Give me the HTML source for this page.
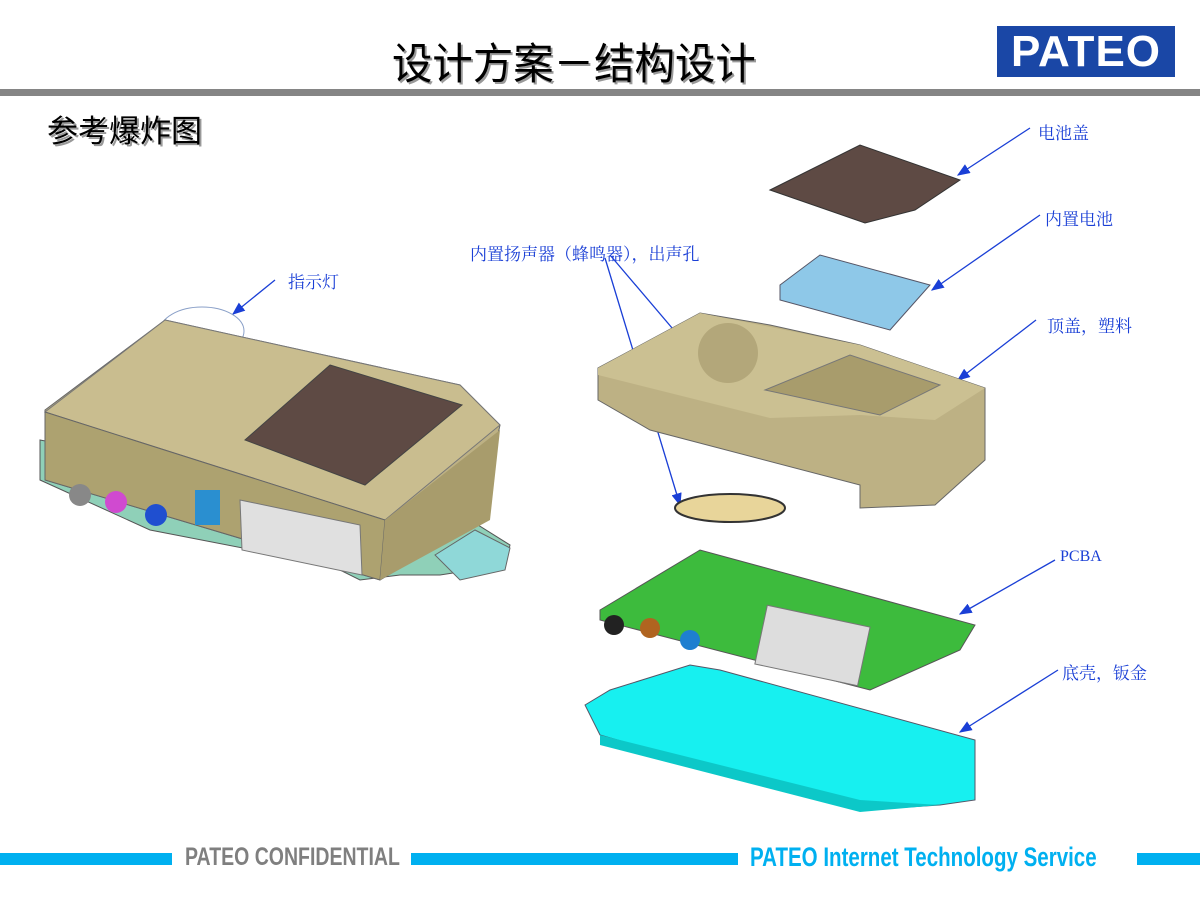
<!DOCTYPE html>
<html><head><meta charset="utf-8"><style>
body{margin:0;width:1200px;height:900px;background:#fff;overflow:hidden;position:relative;font-family:"Liberation Sans","Noto Sans CJK SC",sans-serif}
.t{position:absolute;white-space:nowrap}
.lbl{position:absolute;color:#1a3fd6;font-size:17px;font-family:"Liberation Serif","Noto Serif CJK SC",serif;white-space:nowrap}
</style></head><body>
<div class="t" style="left:392px;top:30px;font-size:43px;color:#000;text-shadow:2px 2px 0 #999;font-family:'Noto Sans CJK SC',sans-serif;transform:scaleX(0.94);transform-origin:left">设计方案－结构设计</div>
<div class="t" style="left:997px;top:26px;width:178px;height:51px;background:#1a47a6;color:#fff;font-weight:bold;font-size:44px;line-height:51px;text-align:center;letter-spacing:1px">PATEO</div>
<div style="position:absolute;left:0;top:89px;width:1200px;height:7px;background:#858585"></div>
<div class="t" style="left:47px;top:106px;font-size:31px;color:#000;text-shadow:2px 2px 0 #999;font-family:'Noto Sans CJK SC',sans-serif">参考爆炸图</div>
<div class="lbl" style="left:1038px;top:119px">电池盖</div>
<div class="lbl" style="left:1045px;top:205px">内置电池</div>
<div class="lbl" style="left:470px;top:240px">内置扬声器（蜂鸣器），出声孔</div>
<div class="lbl" style="left:288px;top:268px">指示灯</div>
<div class="lbl" style="left:1047px;top:312px">顶盖，塑料</div>
<div class="lbl" style="left:1060px;top:548px;font-size:16px">PCBA</div>
<div class="lbl" style="left:1062px;top:659px">底壳，钣金</div>
<svg width="1200" height="900" style="position:absolute;left:0;top:0">
<defs><marker id="a" markerWidth="10" markerHeight="8" refX="9" refY="4" orient="auto"><path d="M0,0L10,4L0,8z" fill="#1a3fd6"/></marker></defs>
<g stroke="#1a3fd6" stroke-width="1.3" fill="none" marker-end="url(#a)">
<line x1="1030" y1="128" x2="958" y2="175"/>
<line x1="1040" y1="215" x2="932" y2="290"/>
<line x1="1036" y1="320" x2="958" y2="380"/>
<line x1="1055" y1="560" x2="960" y2="614"/>
<line x1="1058" y1="670" x2="960" y2="732"/>
<line x1="275" y1="280" x2="233" y2="314"/>
<line x1="610" y1="255" x2="695" y2="355"/>
<line x1="605" y1="258" x2="680" y2="505"/>
</g>
<ellipse cx="202" cy="331" rx="42" ry="24" fill="none" stroke="#8aa0c8"/>
<!-- left device -->
<polygon points="40,440 470,520 510,545 505,565 440,575 400,575 360,580 330,565 150,530 40,480" fill="#8fd0b8" stroke="#555"/>
<polygon points="45,410 165,320 460,385 500,425 480,520 380,580 45,480" fill="#bdb184" stroke="#666"/>
<polygon points="165,320 460,385 500,425 385,520 45,412" fill="#c9bd8f" stroke="#777"/>
<polygon points="45,412 385,520 380,580 45,480" fill="#ada270" stroke="#666"/>
<polygon points="385,520 500,430 490,520 380,580" fill="#a89c6c"/>
<polygon points="330,365 462,405 365,485 245,440" fill="#5e4a44" stroke="#444"/>
<polygon points="240,500 360,525 362,575 242,550" fill="#e0e0e0" stroke="#777"/>
<rect x="195" y="490" width="25" height="35" fill="#2a8fd0"/>
<circle cx="80" cy="495" r="11" fill="#888"/><circle cx="116" cy="502" r="11" fill="#d04ad0"/><circle cx="156" cy="515" r="11" fill="#1f4fd0"/>
<polygon points="435,555 475,530 510,548 505,570 460,580" fill="#8fd8d8" stroke="#666"/>
<!-- battery cover -->
<polygon points="770,190 860,145 960,180 915,210 865,223" fill="#5e4a44" stroke="#333"/>
<!-- battery -->
<polygon points="780,285 820,255 930,285 890,330 780,300" fill="#8ec8e8" stroke="#556"/>
<!-- top cover -->
<polygon points="598,368 700,313 770,325 860,345 985,388 985,460 935,505 860,508 860,485 650,430 598,400" fill="#bdb184" stroke="#666"/>
<polygon points="598,368 700,313 860,345 985,388 935,420 860,415 770,418 598,375" fill="#cbc092"/>
<polygon points="765,390 850,355 940,385 880,415" fill="#a89c6c" stroke="#777"/>
<circle cx="728" cy="353" r="30" fill="#b3a77a"/>
<!-- speaker -->
<ellipse cx="730" cy="508" rx="55" ry="14" fill="#e8d59a" stroke="#333" stroke-width="2"/>
<!-- PCBA -->
<polygon points="600,610 700,550 975,625 960,650 870,690 600,620" fill="#3dbb3d" stroke="#555"/>
<rect x="760" y="615" width="105" height="60" fill="#ddd" stroke="#777" transform="rotate(12 810 645)"/>
<circle cx="614" cy="625" r="10" fill="#222"/><circle cx="650" cy="628" r="10" fill="#b06420"/><circle cx="690" cy="640" r="10" fill="#1e7fd0"/>
<!-- bottom shell -->
<polygon points="585,705 610,690 690,665 720,670 975,740 975,800 940,805 860,810 600,735" fill="#17f0f0" stroke="#556"/>
<polygon points="600,735 860,800 940,805 860,812 600,745" fill="#0cc8c8"/>
</svg>
<div style="position:absolute;left:0;top:853px;width:172px;height:12px;background:#00b0f0"></div>
<div class="t" style="left:185px;top:843px;font-size:25px;font-weight:bold;color:#7f7f7f;transform:scaleX(0.78);transform-origin:left">PATEO CONFIDENTIAL</div>
<div style="position:absolute;left:411px;top:853px;width:327px;height:12px;background:#00b0f0"></div>
<div class="t" style="left:750px;top:842px;font-size:27px;font-weight:bold;color:#00b0f0;transform:scaleX(0.76);transform-origin:left">PATEO Internet Technology Service</div>
<div style="position:absolute;left:1137px;top:853px;width:63px;height:12px;background:#00b0f0"></div>
</body></html>
